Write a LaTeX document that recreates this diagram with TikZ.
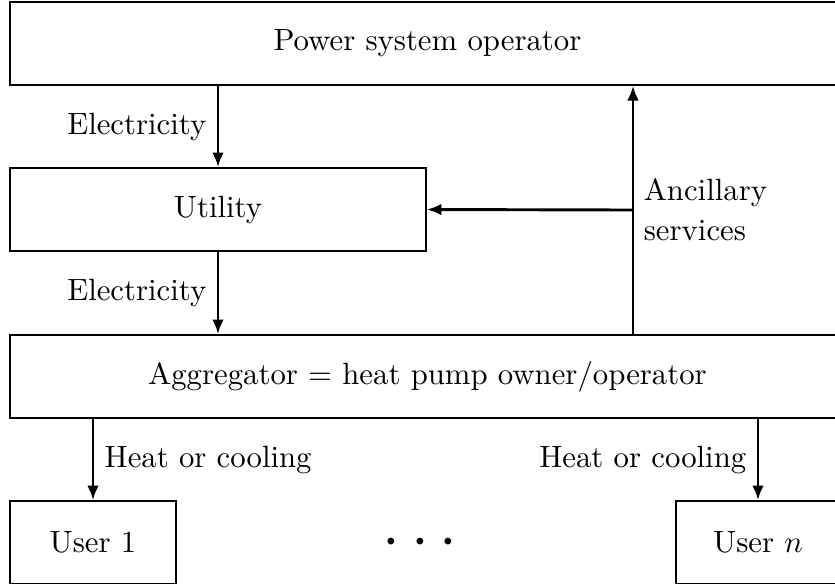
\documentclass[tikz,border=0pt]{standalone}
\usetikzlibrary{arrows.meta}
\tikzset{
  box/.style={draw, line width=0.45pt, inner sep=0pt, minimum height=27pt},
  flow/.style={line width=0.95pt, -{Latex[length=4.8pt,width=3.8pt]}},
  lbl/.style={inner sep=3.33pt}
}
\begin{document}
\begin{tikzpicture}[x=0.325pt, y=-0.325pt]
\useasboundingbox (0,0) rectangle (835,583);
\node[box, minimum width=271.4pt] (pso) at (427.5,43.5) {Power system operator};
\node[box, minimum width=135.2pt] (util) at (218,209.5) {Utility};
\node[box, minimum width=271.4pt] (agg) at (427.5,376.5) {Aggregator $=$ heat pump owner/operator};
\node[box, minimum width=54pt] (u1) at (93,542.5) {User 1};
\node[box, minimum width=53.3pt] (un) at (758,542.5) {User $n$};
\node[inner sep=0pt] (dots) at (420,543) {\huge$\cdots$};
\coordinate (anc) at (633,210);
\draw[flow] (util.north |- pso.south) -- node[lbl, left] {Electricity} (util.north);
\draw[flow] (util.south) -- node[lbl, left] {Electricity} (util.south |- agg.north);
\draw[flow] (agg.north -| anc) -- (pso.south -| anc);
\draw[flow] (anc) -- (util.east);
\node[lbl, anchor=west, align=left] (anclbl) at (anc) {Ancillary\\[1pt]services};
\draw[flow] (agg.south -| u1) -- node[lbl, right] {Heat or cooling} (u1.north);
\draw[flow] (agg.south -| un) -- node[lbl, left] {Heat or cooling} (un.north);
\end{tikzpicture}
\end{document}
